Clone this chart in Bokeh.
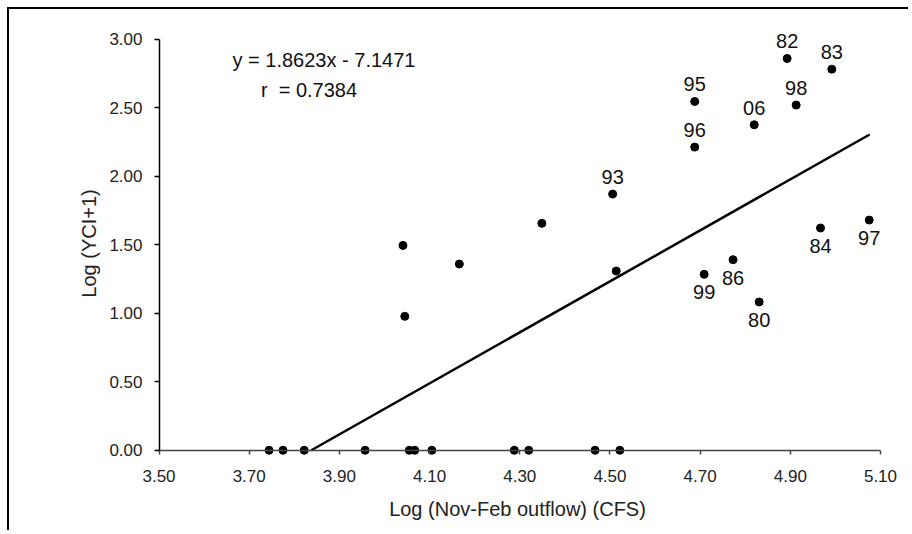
from bokeh.plotting import figure
from bokeh.models import ColumnDataSource, FixedTicker, NumeralTickFormatter, Label, LinearAxis
from bokeh.core.properties import value
from bokeh.embed import file_html
from bokeh.resources import INLINE

# ---- data ----
flow = [3.744, 3.775, 3.822, 3.957, 4.055, 4.067, 4.105, 4.288, 4.320, 4.467, 4.522,
        4.041, 4.045, 4.166, 4.349, 4.514,
        4.506, 4.688, 4.688, 4.820, 4.893, 4.992, 4.913,
        4.967, 5.075, 4.773, 4.709, 4.831]
yci = [0.0, 0.0, 0.0, 0.0, 0.0, 0.0, 0.0, 0.0, 0.0, 0.0, 0.0,
       1.496, 0.978, 1.360, 1.657, 1.309,
       1.871, 2.547, 2.214, 2.377, 2.861, 2.783, 2.521,
       1.623, 1.681, 1.392, 1.285, 1.083]
year = ["", "", "", "", "", "", "", "", "", "", "",
        "", "", "", "", "",
        "93", "95", "96", "06", "82", "83", "98",
        "84", "97", "86", "99", "80"]
label_side = ["", "", "", "", "", "", "", "", "", "", "",
              "", "", "", "", "",
              "above", "above", "above", "above", "above", "above", "above",
              "below", "below", "below", "below", "below"]

slope = 1.8623
intercept = -7.1471
r_value = 0.7384
fit_x_end = 5.076

x_ticks = [3.50, 3.70, 3.90, 4.10, 4.30, 4.50, 4.70, 4.90, 5.10]
y_ticks = [0.00, 0.50, 1.00, 1.50, 2.00, 2.50, 3.00]

FONT = "Liberation Sans"

p = figure(width=901, height=523, x_range=(3.47, 5.12), y_range=(-0.06, 3.08),
           output_backend="svg", toolbar_location=None,
           min_border_left=136, min_border_right=21, min_border_top=19, min_border_bottom=74)
p.styles = {"border-left": "2px solid #000", "border-top": "2px solid #000",
            "margin-left": "7px", "margin-top": "7px"}
p.xgrid.visible = False
p.ygrid.visible = False
p.outline_line_color = None
p.background_fill_color = "white"
p.border_fill_color = "white"

# regression line
fit_x = [-intercept / slope, fit_x_end]
fit_y = [slope * v + intercept for v in fit_x]
p.line(fit_x, fit_y, line_color="black", line_width=2.5)

src = ColumnDataSource(dict(x=flow, y=yci, year=year, side=label_side))
p.scatter("x", "y", source=src, size=8, fill_color="black", line_color="black")

above = ColumnDataSource(dict(
    x=[a for a, s in zip(flow, label_side) if s == "above"],
    y=[b for b, s in zip(yci, label_side) if s == "above"],
    t=[c for c, s in zip(year, label_side) if s == "above"]))
below = ColumnDataSource(dict(
    x=[a for a, s in zip(flow, label_side) if s == "below"],
    y=[b for b, s in zip(yci, label_side) if s == "below"],
    t=[c for c, s in zip(year, label_side) if s == "below"]))
for s, off in ((above, -17), (below, 18)):
    p.text("x", "y", text="t", source=s, y_offset=off, text_align="center",
           text_baseline="middle", text_font=value(FONT), text_font_size="20px",
           text_color="#111")

eq1 = Label(x=3.663, y=2.847, text="y = %.4fx - %.4f" % (slope, -intercept),
            text_font=FONT, text_font_size="20px", text_baseline="middle", text_color="#111")
eq2 = Label(x=3.726, y=2.628, text="r\u00a0\u00a0= %.4f" % r_value,
            text_font=FONT, text_font_size="20px", text_baseline="middle", text_color="#111")
p.add_layout(eq1)
p.add_layout(eq2)


def style_labels(ax, title):
    ax.formatter = NumeralTickFormatter(format="0.00")
    ax.axis_line_color = None
    ax.major_tick_line_color = None
    ax.minor_tick_line_color = None
    ax.major_tick_out = 0
    ax.major_tick_in = 0
    ax.minor_tick_out = 0
    ax.minor_tick_in = 0
    ax.major_label_text_font = FONT
    ax.major_label_text_font_size = "17px"
    ax.major_label_text_color = "#222"
    ax.axis_label = title
    ax.axis_label_text_font = FONT
    ax.axis_label_text_font_size = "20px"
    ax.axis_label_text_font_style = "normal"
    ax.axis_label_text_color = "#222"


def line_axis(loc, bounds, ticks, color, tick_out):
    ax = LinearAxis(fixed_location=loc, bounds=bounds, ticker=FixedTicker(ticks=ticks))
    ax.axis_line_color = color
    ax.axis_line_width = 1.5
    ax.major_tick_line_color = color
    ax.major_tick_line_width = 1.5
    ax.major_tick_out = tick_out
    ax.major_tick_in = 0
    ax.minor_tick_line_color = None
    ax.major_label_text_font_size = "0px"
    ax.major_label_text_alpha = 0
    ax.major_label_standoff = 0
    return ax


# label axes (at frame edges, no line/ticks)
xa = p.xaxis[0]
xa.ticker = FixedTicker(ticks=x_ticks)
style_labels(xa, "Log (Nov-Feb outflow) (CFS)")
xa.major_label_standoff = 11
xa.axis_label_standoff = 13

ya = p.yaxis[0]
ya.ticker = FixedTicker(ticks=y_ticks)
style_labels(ya, "Log (YCI+1)")
ya.major_label_standoff = 3
ya.axis_label_standoff = 6

# axis lines and ticks at the data origin
p.add_layout(line_axis(0, (3.5, 5.1), x_ticks, "#444", 4), "below")
p.add_layout(line_axis(3.5, (0, 3), y_ticks, "black", 5), "left")

open("out.html", "w").write(file_html(p, INLINE))
